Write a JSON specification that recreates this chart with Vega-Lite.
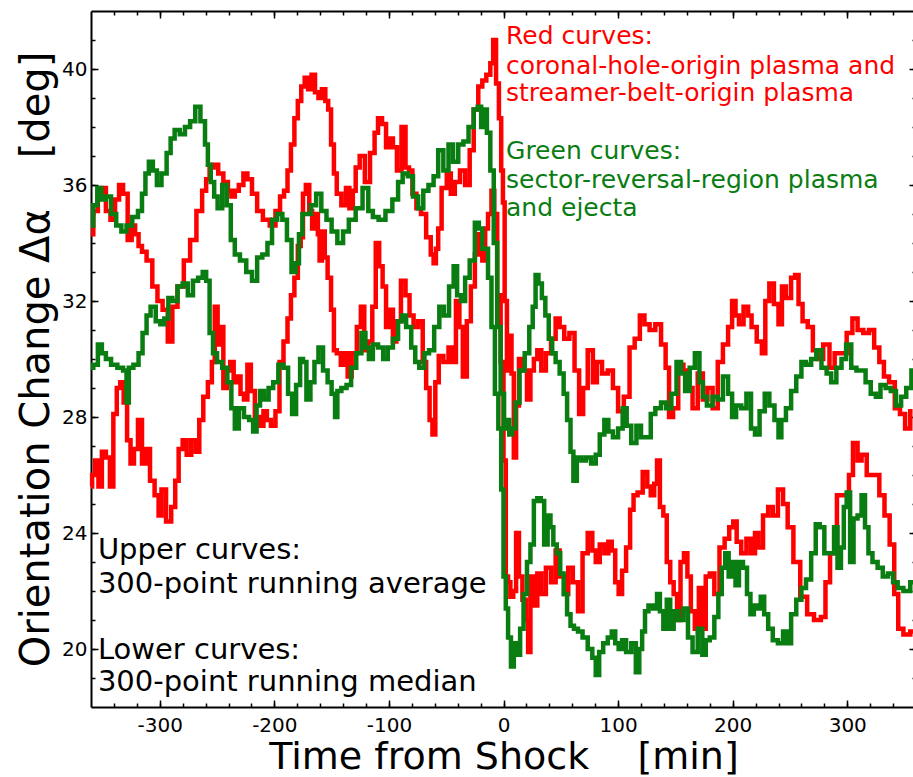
{
"$schema": "https://vega.github.io/schema/vega-lite/v6.json",
"width": 825,
"height": 696,
"autosize": {"type": "none"},
"padding": {"left": 91, "top": 11, "right": 0, "bottom": 70},
"background": "white",
"config": {"view": {"stroke": null}, "font": "DejaVu Sans", "axis": {"grid": false, "labelFont": "DejaVu Sans", "titleFont": "DejaVu Sans", "labelColor": "black", "titleColor": "black", "tickColor": "black", "domainColor": "black", "titleFontWeight": "normal", "tickWidth": 1.5}},
"datasets": {
"curves": [
{"s":"RA","g":"red","t":-360,"v":34.3},{"s":"RA","g":"red","t":-356,"v":35.1},{"s":"RA","g":"red","t":-352,"v":35.6},{"s":"RA","g":"red","t":-349,"v":35.9},{"s":"RA","g":"red","t":-345,"v":35.1},{"s":"RA","g":"red","t":-341,"v":34.8},{"s":"RA","g":"red","t":-337,"v":35.5},{"s":"RA","g":"red","t":-334,"v":36.0},{"s":"RA","g":"red","t":-330,"v":35.7},{"s":"RA","g":"red","t":-326,"v":34.1},{"s":"RA","g":"red","t":-323,"v":34.6},{"s":"RA","g":"red","t":-320,"v":34.3},{"s":"RA","g":"red","t":-317,"v":33.9},{"s":"RA","g":"red","t":-314,"v":33.7},{"s":"RA","g":"red","t":-309,"v":33.4},{"s":"RA","g":"red","t":-304,"v":32.5},{"s":"RA","g":"red","t":-300,"v":32.0},{"s":"RA","g":"red","t":-295,"v":31.7},{"s":"RA","g":"red","t":-291,"v":30.6},{"s":"RA","g":"red","t":-287,"v":31.8},{"s":"RA","g":"red","t":-282,"v":32.5},{"s":"RA","g":"red","t":-276,"v":33.4},{"s":"RA","g":"red","t":-271,"v":34.1},{"s":"RA","g":"red","t":-265,"v":35.1},{"s":"RA","g":"red","t":-261,"v":35.8},{"s":"RA","g":"red","t":-258,"v":36.2},{"s":"RA","g":"red","t":-255,"v":36.6},{"s":"RA","g":"red","t":-251,"v":36.7},{"s":"RA","g":"red","t":-247,"v":36.4},{"s":"RA","g":"red","t":-242,"v":36.1},{"s":"RA","g":"red","t":-239,"v":35.8},{"s":"RA","g":"red","t":-236,"v":35.6},{"s":"RA","g":"red","t":-233,"v":35.8},{"s":"RA","g":"red","t":-229,"v":36.0},{"s":"RA","g":"red","t":-225,"v":36.4},{"s":"RA","g":"red","t":-222,"v":36.2},{"s":"RA","g":"red","t":-217,"v":35.7},{"s":"RA","g":"red","t":-213,"v":35.1},{"s":"RA","g":"red","t":-207,"v":34.8},{"s":"RA","g":"red","t":-201,"v":34.6},{"s":"RA","g":"red","t":-197,"v":35.1},{"s":"RA","g":"red","t":-193,"v":35.6},{"s":"RA","g":"red","t":-190,"v":35.8},{"s":"RA","g":"red","t":-187,"v":36.5},{"s":"RA","g":"red","t":-184,"v":37.4},{"s":"RA","g":"red","t":-181,"v":38.3},{"s":"RA","g":"red","t":-178,"v":38.9},{"s":"RA","g":"red","t":-175,"v":39.4},{"s":"RA","g":"red","t":-172,"v":39.7},{"s":"RA","g":"red","t":-169,"v":39.3},{"s":"RA","g":"red","t":-166,"v":39.8},{"s":"RA","g":"red","t":-163,"v":39.2},{"s":"RA","g":"red","t":-160,"v":39.0},{"s":"RA","g":"red","t":-157,"v":39.3},{"s":"RA","g":"red","t":-154,"v":38.9},{"s":"RA","g":"red","t":-152,"v":38.6},{"s":"RA","g":"red","t":-149,"v":37.4},{"s":"RA","g":"red","t":-147,"v":36.4},{"s":"RA","g":"red","t":-144,"v":35.7},{"s":"RA","g":"red","t":-139,"v":35.3},{"s":"RA","g":"red","t":-136,"v":35.9},{"s":"RA","g":"red","t":-133,"v":35.2},{"s":"RA","g":"red","t":-130,"v":35.8},{"s":"RA","g":"red","t":-128,"v":36.6},{"s":"RA","g":"red","t":-123,"v":37.0},{"s":"RA","g":"red","t":-119,"v":36.1},{"s":"RA","g":"red","t":-114,"v":37.1},{"s":"RA","g":"red","t":-111,"v":37.8},{"s":"RA","g":"red","t":-108,"v":38.3},{"s":"RA","g":"red","t":-104,"v":38.1},{"s":"RA","g":"red","t":-101,"v":37.3},{"s":"RA","g":"red","t":-98,"v":37.6},{"s":"RA","g":"red","t":-95,"v":37.3},{"s":"RA","g":"red","t":-91,"v":36.5},{"s":"RA","g":"red","t":-87,"v":38.0},{"s":"RA","g":"red","t":-84,"v":36.6},{"s":"RA","g":"red","t":-81,"v":36.5},{"s":"RA","g":"red","t":-78,"v":35.7},{"s":"RA","g":"red","t":-74,"v":35.2},{"s":"RA","g":"red","t":-70,"v":35.0},{"s":"RA","g":"red","t":-65,"v":34.2},{"s":"RA","g":"red","t":-62,"v":33.6},{"s":"RA","g":"red","t":-60,"v":33.3},{"s":"RA","g":"red","t":-58,"v":33.8},{"s":"RA","g":"red","t":-56,"v":34.5},{"s":"RA","g":"red","t":-52,"v":35.9},{"s":"RA","g":"red","t":-47,"v":36.4},{"s":"RA","g":"red","t":-45,"v":35.7},{"s":"RA","g":"red","t":-40,"v":36.1},{"s":"RA","g":"red","t":-36,"v":36.5},{"s":"RA","g":"red","t":-31,"v":36.0},{"s":"RA","g":"red","t":-28,"v":37.2},{"s":"RA","g":"red","t":-24,"v":38.6},{"s":"RA","g":"red","t":-20,"v":39.4},{"s":"RA","g":"red","t":-17,"v":39.6},{"s":"RA","g":"red","t":-13,"v":39.8},{"s":"RA","g":"red","t":-10,"v":40.2},{"s":"RA","g":"red","t":-8,"v":41.0},{"s":"RA","g":"red","t":-5,"v":39.5},{"s":"RA","g":"red","t":-3,"v":38.3},{"s":"RA","g":"red","t":-1,"v":36.5},{"s":"RA","g":"red","t":0,"v":35.4},{"s":"RA","g":"red","t":2,"v":32.0},{"s":"RA","g":"red","t":4,"v":29.6},{"s":"RA","g":"red","t":6,"v":30.8},{"s":"RA","g":"red","t":8,"v":29.5},{"s":"RA","g":"red","t":10,"v":26.6},{"s":"RA","g":"red","t":12,"v":28.4},{"s":"RA","g":"red","t":15,"v":30.0},{"s":"RA","g":"red","t":19,"v":29.6},{"s":"RA","g":"red","t":22,"v":28.6},{"s":"RA","g":"red","t":25,"v":29.6},{"s":"RA","g":"red","t":28,"v":30.0},{"s":"RA","g":"red","t":31,"v":30.3},{"s":"RA","g":"red","t":35,"v":29.6},{"s":"RA","g":"red","t":39,"v":30.2},{"s":"RA","g":"red","t":44,"v":30.7},{"s":"RA","g":"red","t":47,"v":31.4},{"s":"RA","g":"red","t":51,"v":31.1},{"s":"RA","g":"red","t":55,"v":30.7},{"s":"RA","g":"red","t":60,"v":30.9},{"s":"RA","g":"red","t":64,"v":29.6},{"s":"RA","g":"red","t":68,"v":28.1},{"s":"RA","g":"red","t":71,"v":29.0},{"s":"RA","g":"red","t":76,"v":30.3},{"s":"RA","g":"red","t":80,"v":29.2},{"s":"RA","g":"red","t":83,"v":29.9},{"s":"RA","g":"red","t":89,"v":29.5},{"s":"RA","g":"red","t":93,"v":29.6},{"s":"RA","g":"red","t":98,"v":29.0},{"s":"RA","g":"red","t":102,"v":28.2},{"s":"RA","g":"red","t":108,"v":28.7},{"s":"RA","g":"red","t":112,"v":30.4},{"s":"RA","g":"red","t":117,"v":30.7},{"s":"RA","g":"red","t":121,"v":31.5},{"s":"RA","g":"red","t":125,"v":31.2},{"s":"RA","g":"red","t":130,"v":31.0},{"s":"RA","g":"red","t":135,"v":31.2},{"s":"RA","g":"red","t":140,"v":30.5},{"s":"RA","g":"red","t":143,"v":29.7},{"s":"RA","g":"red","t":146,"v":28.0},{"s":"RA","g":"red","t":150,"v":28.3},{"s":"RA","g":"red","t":155,"v":29.8},{"s":"RA","g":"red","t":159,"v":29.6},{"s":"RA","g":"red","t":163,"v":29.0},{"s":"RA","g":"red","t":167,"v":28.3},{"s":"RA","g":"red","t":172,"v":29.5},{"s":"RA","g":"red","t":176,"v":28.6},{"s":"RA","g":"red","t":180,"v":29.0},{"s":"RA","g":"red","t":185,"v":28.3},{"s":"RA","g":"red","t":189,"v":29.9},{"s":"RA","g":"red","t":194,"v":30.5},{"s":"RA","g":"red","t":198,"v":31.1},{"s":"RA","g":"red","t":201,"v":32.0},{"s":"RA","g":"red","t":204,"v":31.5},{"s":"RA","g":"red","t":207,"v":31.2},{"s":"RA","g":"red","t":212,"v":31.8},{"s":"RA","g":"red","t":215,"v":31.5},{"s":"RA","g":"red","t":218,"v":31.1},{"s":"RA","g":"red","t":224,"v":30.6},{"s":"RA","g":"red","t":227,"v":30.2},{"s":"RA","g":"red","t":230,"v":32.0},{"s":"RA","g":"red","t":234,"v":32.6},{"s":"RA","g":"red","t":238,"v":31.9},{"s":"RA","g":"red","t":242,"v":31.2},{"s":"RA","g":"red","t":244,"v":32.5},{"s":"RA","g":"red","t":249,"v":32.1},{"s":"RA","g":"red","t":253,"v":32.8},{"s":"RA","g":"red","t":256,"v":32.9},{"s":"RA","g":"red","t":259,"v":31.9},{"s":"RA","g":"red","t":263,"v":31.3},{"s":"RA","g":"red","t":268,"v":31.1},{"s":"RA","g":"red","t":272,"v":30.3},{"s":"RA","g":"red","t":276,"v":30.0},{"s":"RA","g":"red","t":282,"v":30.5},{"s":"RA","g":"red","t":287,"v":29.7},{"s":"RA","g":"red","t":291,"v":30.2},{"s":"RA","g":"red","t":297,"v":30.2},{"s":"RA","g":"red","t":302,"v":30.9},{"s":"RA","g":"red","t":307,"v":31.4},{"s":"RA","g":"red","t":311,"v":31.0},{"s":"RA","g":"red","t":317,"v":30.9},{"s":"RA","g":"red","t":321,"v":31.0},{"s":"RA","g":"red","t":326,"v":30.4},{"s":"RA","g":"red","t":330,"v":29.9},{"s":"RA","g":"red","t":334,"v":29.4},{"s":"RA","g":"red","t":339,"v":29.2},{"s":"RA","g":"red","t":344,"v":28.3},{"s":"RA","g":"red","t":348,"v":28.1},{"s":"RA","g":"red","t":353,"v":27.6},{"s":"RA","g":"red","t":357,"v":28.2},
{"s":"RM","g":"red","t":-360,"v":25.6},{"s":"RM","g":"red","t":-358,"v":26.0},{"s":"RM","g":"red","t":-355,"v":26.5},{"s":"RM","g":"red","t":-352,"v":25.6},{"s":"RM","g":"red","t":-349,"v":26.8},{"s":"RM","g":"red","t":-345,"v":26.6},{"s":"RM","g":"red","t":-342,"v":25.6},{"s":"RM","g":"red","t":-339,"v":28.1},{"s":"RM","g":"red","t":-336,"v":29.0},{"s":"RM","g":"red","t":-333,"v":29.2},{"s":"RM","g":"red","t":-330,"v":28.5},{"s":"RM","g":"red","t":-327,"v":27.2},{"s":"RM","g":"red","t":-324,"v":26.4},{"s":"RM","g":"red","t":-321,"v":26.9},{"s":"RM","g":"red","t":-317,"v":27.9},{"s":"RM","g":"red","t":-314,"v":26.4},{"s":"RM","g":"red","t":-310,"v":26.9},{"s":"RM","g":"red","t":-307,"v":25.8},{"s":"RM","g":"red","t":-302,"v":25.3},{"s":"RM","g":"red","t":-300,"v":24.6},{"s":"RM","g":"red","t":-297,"v":25.5},{"s":"RM","g":"red","t":-292,"v":24.4},{"s":"RM","g":"red","t":-288,"v":24.9},{"s":"RM","g":"red","t":-285,"v":25.8},{"s":"RM","g":"red","t":-282,"v":26.9},{"s":"RM","g":"red","t":-278,"v":27.2},{"s":"RM","g":"red","t":-275,"v":26.7},{"s":"RM","g":"red","t":-270,"v":27.2},{"s":"RM","g":"red","t":-267,"v":26.8},{"s":"RM","g":"red","t":-264,"v":27.9},{"s":"RM","g":"red","t":-260,"v":28.7},{"s":"RM","g":"red","t":-256,"v":29.2},{"s":"RM","g":"red","t":-253,"v":29.9},{"s":"RM","g":"red","t":-251,"v":31.8},{"s":"RM","g":"red","t":-248,"v":30.5},{"s":"RM","g":"red","t":-246,"v":31.1},{"s":"RM","g":"red","t":-243,"v":29.0},{"s":"RM","g":"red","t":-240,"v":29.6},{"s":"RM","g":"red","t":-237,"v":29.9},{"s":"RM","g":"red","t":-234,"v":29.2},{"s":"RM","g":"red","t":-231,"v":29.4},{"s":"RM","g":"red","t":-228,"v":28.8},{"s":"RM","g":"red","t":-225,"v":28.6},{"s":"RM","g":"red","t":-222,"v":29.8},{"s":"RM","g":"red","t":-219,"v":28.9},{"s":"RM","g":"red","t":-215,"v":28.0},{"s":"RM","g":"red","t":-211,"v":27.7},{"s":"RM","g":"red","t":-208,"v":28.2},{"s":"RM","g":"red","t":-205,"v":27.9},{"s":"RM","g":"red","t":-201,"v":27.7},{"s":"RM","g":"red","t":-197,"v":28.2},{"s":"RM","g":"red","t":-194,"v":29.9},{"s":"RM","g":"red","t":-190,"v":30.6},{"s":"RM","g":"red","t":-187,"v":31.4},{"s":"RM","g":"red","t":-184,"v":32.2},{"s":"RM","g":"red","t":-181,"v":32.8},{"s":"RM","g":"red","t":-178,"v":33.9},{"s":"RM","g":"red","t":-176,"v":34.2},{"s":"RM","g":"red","t":-174,"v":35.7},{"s":"RM","g":"red","t":-171,"v":36.0},{"s":"RM","g":"red","t":-168,"v":35.1},{"s":"RM","g":"red","t":-166,"v":34.5},{"s":"RM","g":"red","t":-163,"v":35.0},{"s":"RM","g":"red","t":-161,"v":34.3},{"s":"RM","g":"red","t":-160,"v":33.4},{"s":"RM","g":"red","t":-157,"v":34.4},{"s":"RM","g":"red","t":-155,"v":33.5},{"s":"RM","g":"red","t":-152,"v":32.8},{"s":"RM","g":"red","t":-149,"v":31.7},{"s":"RM","g":"red","t":-147,"v":30.3},{"s":"RM","g":"red","t":-144,"v":30.2},{"s":"RM","g":"red","t":-140,"v":29.8},{"s":"RM","g":"red","t":-137,"v":30.2},{"s":"RM","g":"red","t":-135,"v":29.4},{"s":"RM","g":"red","t":-130,"v":30.2},{"s":"RM","g":"red","t":-126,"v":31.1},{"s":"RM","g":"red","t":-123,"v":31.8},{"s":"RM","g":"red","t":-120,"v":30.3},{"s":"RM","g":"red","t":-116,"v":30.6},{"s":"RM","g":"red","t":-113,"v":31.8},{"s":"RM","g":"red","t":-110,"v":34.0},{"s":"RM","g":"red","t":-107,"v":33.2},{"s":"RM","g":"red","t":-104,"v":32.5},{"s":"RM","g":"red","t":-101,"v":31.1},{"s":"RM","g":"red","t":-98,"v":31.7},{"s":"RM","g":"red","t":-95,"v":30.6},{"s":"RM","g":"red","t":-92,"v":31.3},{"s":"RM","g":"red","t":-87,"v":32.7},{"s":"RM","g":"red","t":-84,"v":32.2},{"s":"RM","g":"red","t":-80,"v":31.5},{"s":"RM","g":"red","t":-77,"v":31.1},{"s":"RM","g":"red","t":-72,"v":31.3},{"s":"RM","g":"red","t":-69,"v":29.9},{"s":"RM","g":"red","t":-66,"v":29.0},{"s":"RM","g":"red","t":-63,"v":27.9},{"s":"RM","g":"red","t":-61,"v":27.4},{"s":"RM","g":"red","t":-58,"v":29.2},{"s":"RM","g":"red","t":-55,"v":30.1},{"s":"RM","g":"red","t":-50,"v":29.9},{"s":"RM","g":"red","t":-46,"v":30.4},{"s":"RM","g":"red","t":-43,"v":29.9},{"s":"RM","g":"red","t":-40,"v":32.0},{"s":"RM","g":"red","t":-37,"v":31.1},{"s":"RM","g":"red","t":-34,"v":29.4},{"s":"RM","g":"red","t":-30,"v":31.3},{"s":"RM","g":"red","t":-27,"v":32.5},{"s":"RM","g":"red","t":-23,"v":33.6},{"s":"RM","g":"red","t":-20,"v":34.3},{"s":"RM","g":"red","t":-17,"v":33.4},{"s":"RM","g":"red","t":-15,"v":34.5},{"s":"RM","g":"red","t":-12,"v":35.0},{"s":"RM","g":"red","t":-9,"v":35.8},{"s":"RM","g":"red","t":-7,"v":35.0},{"s":"RM","g":"red","t":-4,"v":32.2},{"s":"RM","g":"red","t":-1,"v":29.9},{"s":"RM","g":"red","t":1,"v":26.5},{"s":"RM","g":"red","t":3,"v":22.5},{"s":"RM","g":"red","t":5,"v":22.3},{"s":"RM","g":"red","t":7,"v":21.8},{"s":"RM","g":"red","t":10,"v":22.0},{"s":"RM","g":"red","t":12,"v":24.0},{"s":"RM","g":"red","t":15,"v":22.5},{"s":"RM","g":"red","t":18,"v":21.7},{"s":"RM","g":"red","t":21,"v":21.0},{"s":"RM","g":"red","t":22,"v":19.9},{"s":"RM","g":"red","t":25,"v":22.5},{"s":"RM","g":"red","t":28,"v":21.5},{"s":"RM","g":"red","t":31,"v":22.6},{"s":"RM","g":"red","t":35,"v":21.9},{"s":"RM","g":"red","t":39,"v":22.8},{"s":"RM","g":"red","t":44,"v":22.3},{"s":"RM","g":"red","t":47,"v":23.4},{"s":"RM","g":"red","t":51,"v":22.5},{"s":"RM","g":"red","t":55,"v":21.9},{"s":"RM","g":"red","t":58,"v":22.8},{"s":"RM","g":"red","t":63,"v":22.3},{"s":"RM","g":"red","t":67,"v":21.3},{"s":"RM","g":"red","t":71,"v":23.3},{"s":"RM","g":"red","t":76,"v":24.0},{"s":"RM","g":"red","t":79,"v":23.4},{"s":"RM","g":"red","t":82,"v":23.0},{"s":"RM","g":"red","t":86,"v":23.6},{"s":"RM","g":"red","t":90,"v":23.3},{"s":"RM","g":"red","t":93,"v":23.7},{"s":"RM","g":"red","t":96,"v":23.4},{"s":"RM","g":"red","t":99,"v":22.3},{"s":"RM","g":"red","t":102,"v":21.9},{"s":"RM","g":"red","t":105,"v":22.7},{"s":"RM","g":"red","t":109,"v":23.5},{"s":"RM","g":"red","t":112,"v":24.8},{"s":"RM","g":"red","t":115,"v":25.3},{"s":"RM","g":"red","t":119,"v":25.4},{"s":"RM","g":"red","t":124,"v":26.1},{"s":"RM","g":"red","t":127,"v":25.6},{"s":"RM","g":"red","t":130,"v":25.3},{"s":"RM","g":"red","t":133,"v":25.7},{"s":"RM","g":"red","t":135,"v":26.5},{"s":"RM","g":"red","t":138,"v":24.9},{"s":"RM","g":"red","t":141,"v":24.6},{"s":"RM","g":"red","t":144,"v":23.0},{"s":"RM","g":"red","t":147,"v":22.3},{"s":"RM","g":"red","t":150,"v":21.9},{"s":"RM","g":"red","t":153,"v":21.0},{"s":"RM","g":"red","t":156,"v":23.0},{"s":"RM","g":"red","t":159,"v":23.3},{"s":"RM","g":"red","t":162,"v":22.5},{"s":"RM","g":"red","t":165,"v":21.3},{"s":"RM","g":"red","t":169,"v":20.7},{"s":"RM","g":"red","t":172,"v":22.1},{"s":"RM","g":"red","t":175,"v":20.7},{"s":"RM","g":"red","t":178,"v":22.5},{"s":"RM","g":"red","t":182,"v":22.6},{"s":"RM","g":"red","t":186,"v":21.9},{"s":"RM","g":"red","t":191,"v":23.5},{"s":"RM","g":"red","t":195,"v":23.8},{"s":"RM","g":"red","t":199,"v":24.2},{"s":"RM","g":"red","t":202,"v":24.4},{"s":"RM","g":"red","t":205,"v":23.7},{"s":"RM","g":"red","t":210,"v":23.3},{"s":"RM","g":"red","t":214,"v":23.8},{"s":"RM","g":"red","t":218,"v":23.3},{"s":"RM","g":"red","t":221,"v":24.0},{"s":"RM","g":"red","t":224,"v":23.5},{"s":"RM","g":"red","t":229,"v":24.6},{"s":"RM","g":"red","t":233,"v":24.9},{"s":"RM","g":"red","t":237,"v":24.6},{"s":"RM","g":"red","t":242,"v":25.5},{"s":"RM","g":"red","t":246,"v":25.0},{"s":"RM","g":"red","t":250,"v":24.2},{"s":"RM","g":"red","t":256,"v":23.0},{"s":"RM","g":"red","t":262,"v":21.8},{"s":"RM","g":"red","t":268,"v":21.2},{"s":"RM","g":"red","t":274,"v":21.0},{"s":"RM","g":"red","t":280,"v":21.1},{"s":"RM","g":"red","t":282,"v":22.3},{"s":"RM","g":"red","t":288,"v":23.3},{"s":"RM","g":"red","t":294,"v":25.3},{"s":"RM","g":"red","t":300,"v":25.3},{"s":"RM","g":"red","t":303,"v":26.0},{"s":"RM","g":"red","t":307,"v":27.1},{"s":"RM","g":"red","t":311,"v":26.5},{"s":"RM","g":"red","t":314,"v":26.7},{"s":"RM","g":"red","t":320,"v":26.0},{"s":"RM","g":"red","t":326,"v":26.0},{"s":"RM","g":"red","t":330,"v":25.3},{"s":"RM","g":"red","t":335,"v":24.6},{"s":"RM","g":"red","t":339,"v":23.6},{"s":"RM","g":"red","t":343,"v":21.9},{"s":"RM","g":"red","t":346,"v":20.7},{"s":"RM","g":"red","t":352,"v":20.5},{"s":"RM","g":"red","t":358,"v":20.6},
{"s":"GA","g":"green","t":-360,"v":34.6},{"s":"GA","g":"green","t":-356,"v":35.3},{"s":"GA","g":"green","t":-353,"v":35.9},{"s":"GA","g":"green","t":-349,"v":35.5},{"s":"GA","g":"green","t":-345,"v":35.6},{"s":"GA","g":"green","t":-340,"v":35.0},{"s":"GA","g":"green","t":-336,"v":34.6},{"s":"GA","g":"green","t":-331,"v":34.4},{"s":"GA","g":"green","t":-327,"v":34.6},{"s":"GA","g":"green","t":-321,"v":34.9},{"s":"GA","g":"green","t":-317,"v":35.1},{"s":"GA","g":"green","t":-314,"v":35.7},{"s":"GA","g":"green","t":-311,"v":36.4},{"s":"GA","g":"green","t":-308,"v":36.8},{"s":"GA","g":"green","t":-304,"v":36.5},{"s":"GA","g":"green","t":-301,"v":36.0},{"s":"GA","g":"green","t":-296,"v":36.4},{"s":"GA","g":"green","t":-292,"v":37.1},{"s":"GA","g":"green","t":-289,"v":37.6},{"s":"GA","g":"green","t":-285,"v":37.9},{"s":"GA","g":"green","t":-280,"v":37.75},{"s":"GA","g":"green","t":-276,"v":38.0},{"s":"GA","g":"green","t":-271,"v":38.2},{"s":"GA","g":"green","t":-267,"v":38.7},{"s":"GA","g":"green","t":-262,"v":38.2},{"s":"GA","g":"green","t":-259,"v":37.4},{"s":"GA","g":"green","t":-257,"v":36.7},{"s":"GA","g":"green","t":-254,"v":36.1},{"s":"GA","g":"green","t":-251,"v":35.6},{"s":"GA","g":"green","t":-248,"v":35.2},{"s":"GA","g":"green","t":-243,"v":36.0},{"s":"GA","g":"green","t":-240,"v":35.3},{"s":"GA","g":"green","t":-236,"v":34.1},{"s":"GA","g":"green","t":-233,"v":33.6},{"s":"GA","g":"green","t":-227,"v":33.4},{"s":"GA","g":"green","t":-222,"v":33.0},{"s":"GA","g":"green","t":-217,"v":32.7},{"s":"GA","g":"green","t":-213,"v":33.5},{"s":"GA","g":"green","t":-208,"v":33.6},{"s":"GA","g":"green","t":-204,"v":34.0},{"s":"GA","g":"green","t":-200,"v":34.8},{"s":"GA","g":"green","t":-195,"v":35.0},{"s":"GA","g":"green","t":-191,"v":34.8},{"s":"GA","g":"green","t":-187,"v":34.1},{"s":"GA","g":"green","t":-183,"v":33.0},{"s":"GA","g":"green","t":-180,"v":33.3},{"s":"GA","g":"green","t":-177,"v":34.3},{"s":"GA","g":"green","t":-174,"v":35.0},{"s":"GA","g":"green","t":-170,"v":35.0},{"s":"GA","g":"green","t":-166,"v":35.3},{"s":"GA","g":"green","t":-161,"v":35.7},{"s":"GA","g":"green","t":-157,"v":35.1},{"s":"GA","g":"green","t":-152,"v":34.8},{"s":"GA","g":"green","t":-148,"v":34.4},{"s":"GA","g":"green","t":-142,"v":34.0},{"s":"GA","g":"green","t":-138,"v":34.4},{"s":"GA","g":"green","t":-132,"v":34.8},{"s":"GA","g":"green","t":-126,"v":35.2},{"s":"GA","g":"green","t":-120,"v":35.9},{"s":"GA","g":"green","t":-116,"v":35.1},{"s":"GA","g":"green","t":-112,"v":34.9},{"s":"GA","g":"green","t":-106,"v":34.8},{"s":"GA","g":"green","t":-100,"v":35.1},{"s":"GA","g":"green","t":-94,"v":35.5},{"s":"GA","g":"green","t":-90,"v":36.1},{"s":"GA","g":"green","t":-86,"v":36.4},{"s":"GA","g":"green","t":-81,"v":36.3},{"s":"GA","g":"green","t":-77,"v":35.6},{"s":"GA","g":"green","t":-72,"v":35.2},{"s":"GA","g":"green","t":-68,"v":35.8},{"s":"GA","g":"green","t":-63,"v":36.0},{"s":"GA","g":"green","t":-59,"v":36.3},{"s":"GA","g":"green","t":-55,"v":37.2},{"s":"GA","g":"green","t":-50,"v":36.5},{"s":"GA","g":"green","t":-46,"v":37.4},{"s":"GA","g":"green","t":-42,"v":36.8},{"s":"GA","g":"green","t":-37,"v":37.4},{"s":"GA","g":"green","t":-33,"v":37.5},{"s":"GA","g":"green","t":-28,"v":38.0},{"s":"GA","g":"green","t":-24,"v":38.6},{"s":"GA","g":"green","t":-21,"v":38.7},{"s":"GA","g":"green","t":-18,"v":38.0},{"s":"GA","g":"green","t":-16,"v":38.6},{"s":"GA","g":"green","t":-13,"v":37.8},{"s":"GA","g":"green","t":-10,"v":36.5},{"s":"GA","g":"green","t":-7,"v":34.0},{"s":"GA","g":"green","t":-4,"v":31.1},{"s":"GA","g":"green","t":-1,"v":28.8},{"s":"GA","g":"green","t":2,"v":27.6},{"s":"GA","g":"green","t":4,"v":27.9},{"s":"GA","g":"green","t":6,"v":27.4},{"s":"GA","g":"green","t":9,"v":27.6},{"s":"GA","g":"green","t":12,"v":28.5},{"s":"GA","g":"green","t":16,"v":29.6},{"s":"GA","g":"green","t":21,"v":30.2},{"s":"GA","g":"green","t":24,"v":31.1},{"s":"GA","g":"green","t":27,"v":31.8},{"s":"GA","g":"green","t":29,"v":32.9},{"s":"GA","g":"green","t":32,"v":32.6},{"s":"GA","g":"green","t":35,"v":32.1},{"s":"GA","g":"green","t":38,"v":31.5},{"s":"GA","g":"green","t":41,"v":30.7},{"s":"GA","g":"green","t":44,"v":30.2},{"s":"GA","g":"green","t":47,"v":29.9},{"s":"GA","g":"green","t":51,"v":29.5},{"s":"GA","g":"green","t":54,"v":28.8},{"s":"GA","g":"green","t":57,"v":27.9},{"s":"GA","g":"green","t":60,"v":26.8},{"s":"GA","g":"green","t":62,"v":25.8},{"s":"GA","g":"green","t":66,"v":26.6},{"s":"GA","g":"green","t":70,"v":26.5},{"s":"GA","g":"green","t":74,"v":26.6},{"s":"GA","g":"green","t":79,"v":26.4},{"s":"GA","g":"green","t":82,"v":26.7},{"s":"GA","g":"green","t":86,"v":27.4},{"s":"GA","g":"green","t":90,"v":27.9},{"s":"GA","g":"green","t":93,"v":27.5},{"s":"GA","g":"green","t":98,"v":27.3},{"s":"GA","g":"green","t":102,"v":27.6},{"s":"GA","g":"green","t":106,"v":28.3},{"s":"GA","g":"green","t":109,"v":27.7},{"s":"GA","g":"green","t":114,"v":27.1},{"s":"GA","g":"green","t":118,"v":27.7},{"s":"GA","g":"green","t":122,"v":27.3},{"s":"GA","g":"green","t":127,"v":27.3},{"s":"GA","g":"green","t":130,"v":28.1},{"s":"GA","g":"green","t":135,"v":28.3},{"s":"GA","g":"green","t":140,"v":28.5},{"s":"GA","g":"green","t":144,"v":28.3},{"s":"GA","g":"green","t":149,"v":28.8},{"s":"GA","g":"green","t":153,"v":29.9},{"s":"GA","g":"green","t":157,"v":29.5},{"s":"GA","g":"green","t":160,"v":28.9},{"s":"GA","g":"green","t":165,"v":29.7},{"s":"GA","g":"green","t":169,"v":30.2},{"s":"GA","g":"green","t":173,"v":29.2},{"s":"GA","g":"green","t":175,"v":28.7},{"s":"GA","g":"green","t":180,"v":28.4},{"s":"GA","g":"green","t":185,"v":28.7},{"s":"GA","g":"green","t":189,"v":28.6},{"s":"GA","g":"green","t":194,"v":29.4},{"s":"GA","g":"green","t":198,"v":28.8},{"s":"GA","g":"green","t":201,"v":28.0},{"s":"GA","g":"green","t":205,"v":28.4},{"s":"GA","g":"green","t":210,"v":28.3},{"s":"GA","g":"green","t":214,"v":28.8},{"s":"GA","g":"green","t":218,"v":27.6},{"s":"GA","g":"green","t":221,"v":27.4},{"s":"GA","g":"green","t":226,"v":28.2},{"s":"GA","g":"green","t":230,"v":28.8},{"s":"GA","g":"green","t":234,"v":28.4},{"s":"GA","g":"green","t":239,"v":27.9},{"s":"GA","g":"green","t":241,"v":27.3},{"s":"GA","g":"green","t":244,"v":27.9},{"s":"GA","g":"green","t":249,"v":28.3},{"s":"GA","g":"green","t":253,"v":28.9},{"s":"GA","g":"green","t":258,"v":29.4},{"s":"GA","g":"green","t":262,"v":29.9},{"s":"GA","g":"green","t":266,"v":29.8},{"s":"GA","g":"green","t":271,"v":30.0},{"s":"GA","g":"green","t":275,"v":30.3},{"s":"GA","g":"green","t":280,"v":29.7},{"s":"GA","g":"green","t":284,"v":29.5},{"s":"GA","g":"green","t":288,"v":29.2},{"s":"GA","g":"green","t":293,"v":29.7},{"s":"GA","g":"green","t":297,"v":30.0},{"s":"GA","g":"green","t":301,"v":30.5},{"s":"GA","g":"green","t":306,"v":29.7},{"s":"GA","g":"green","t":310,"v":29.6},{"s":"GA","g":"green","t":314,"v":29.6},{"s":"GA","g":"green","t":318,"v":29.2},{"s":"GA","g":"green","t":323,"v":28.8},{"s":"GA","g":"green","t":327,"v":28.7},{"s":"GA","g":"green","t":331,"v":29.1},{"s":"GA","g":"green","t":336,"v":29.0},{"s":"GA","g":"green","t":340,"v":28.9},{"s":"GA","g":"green","t":345,"v":28.4},{"s":"GA","g":"green","t":349,"v":28.7},{"s":"GA","g":"green","t":354,"v":29.0},{"s":"GA","g":"green","t":358,"v":29.6},
{"s":"GM","g":"green","t":-360,"v":29.7},{"s":"GM","g":"green","t":-356,"v":29.8},{"s":"GM","g":"green","t":-352,"v":30.5},{"s":"GM","g":"green","t":-349,"v":30.2},{"s":"GM","g":"green","t":-345,"v":30.0},{"s":"GM","g":"green","t":-340,"v":29.8},{"s":"GM","g":"green","t":-334,"v":29.7},{"s":"GM","g":"green","t":-330,"v":29.6},{"s":"GM","g":"green","t":-328,"v":28.5},{"s":"GM","g":"green","t":-326,"v":29.7},{"s":"GM","g":"green","t":-320,"v":29.8},{"s":"GM","g":"green","t":-317,"v":30.2},{"s":"GM","g":"green","t":-313,"v":30.9},{"s":"GM","g":"green","t":-310,"v":31.5},{"s":"GM","g":"green","t":-306,"v":31.8},{"s":"GM","g":"green","t":-301,"v":31.3},{"s":"GM","g":"green","t":-298,"v":31.2},{"s":"GM","g":"green","t":-294,"v":31.4},{"s":"GM","g":"green","t":-291,"v":32.1},{"s":"GM","g":"green","t":-287,"v":32.0},{"s":"GM","g":"green","t":-282,"v":32.5},{"s":"GM","g":"green","t":-278,"v":32.6},{"s":"GM","g":"green","t":-273,"v":32.2},{"s":"GM","g":"green","t":-269,"v":32.7},{"s":"GM","g":"green","t":-264,"v":32.8},{"s":"GM","g":"green","t":-261,"v":33.0},{"s":"GM","g":"green","t":-258,"v":32.7},{"s":"GM","g":"green","t":-255,"v":30.9},{"s":"GM","g":"green","t":-252,"v":30.2},{"s":"GM","g":"green","t":-248,"v":29.9},{"s":"GM","g":"green","t":-243,"v":29.7},{"s":"GM","g":"green","t":-239,"v":29.2},{"s":"GM","g":"green","t":-236,"v":28.3},{"s":"GM","g":"green","t":-233,"v":27.6},{"s":"GM","g":"green","t":-229,"v":28.3},{"s":"GM","g":"green","t":-224,"v":28.0},{"s":"GM","g":"green","t":-220,"v":27.9},{"s":"GM","g":"green","t":-217,"v":27.5},{"s":"GM","g":"green","t":-214,"v":28.4},{"s":"GM","g":"green","t":-211,"v":28.9},{"s":"GM","g":"green","t":-207,"v":28.6},{"s":"GM","g":"green","t":-203,"v":29.0},{"s":"GM","g":"green","t":-199,"v":29.2},{"s":"GM","g":"green","t":-194,"v":29.8},{"s":"GM","g":"green","t":-190,"v":29.7},{"s":"GM","g":"green","t":-186,"v":28.8},{"s":"GM","g":"green","t":-183,"v":28.1},{"s":"GM","g":"green","t":-179,"v":29.1},{"s":"GM","g":"green","t":-176,"v":30.0},{"s":"GM","g":"green","t":-174,"v":29.9},{"s":"GM","g":"green","t":-170,"v":28.6},{"s":"GM","g":"green","t":-167,"v":29.2},{"s":"GM","g":"green","t":-163,"v":29.9},{"s":"GM","g":"green","t":-160,"v":30.4},{"s":"GM","g":"green","t":-155,"v":29.6},{"s":"GM","g":"green","t":-152,"v":29.2},{"s":"GM","g":"green","t":-148,"v":28.8},{"s":"GM","g":"green","t":-146,"v":28.0},{"s":"GM","g":"green","t":-144,"v":28.9},{"s":"GM","g":"green","t":-139,"v":29.0},{"s":"GM","g":"green","t":-135,"v":29.1},{"s":"GM","g":"green","t":-131,"v":29.7},{"s":"GM","g":"green","t":-126,"v":30.2},{"s":"GM","g":"green","t":-122,"v":30.9},{"s":"GM","g":"green","t":-119,"v":30.4},{"s":"GM","g":"green","t":-116,"v":30.0},{"s":"GM","g":"green","t":-112,"v":30.5},{"s":"GM","g":"green","t":-107,"v":30.4},{"s":"GM","g":"green","t":-103,"v":30.0},{"s":"GM","g":"green","t":-99,"v":30.4},{"s":"GM","g":"green","t":-94,"v":30.7},{"s":"GM","g":"green","t":-90,"v":31.3},{"s":"GM","g":"green","t":-87,"v":31.5},{"s":"GM","g":"green","t":-83,"v":31.1},{"s":"GM","g":"green","t":-78,"v":30.4},{"s":"GM","g":"green","t":-76,"v":29.9},{"s":"GM","g":"green","t":-71,"v":29.7},{"s":"GM","g":"green","t":-67,"v":30.2},{"s":"GM","g":"green","t":-63,"v":30.3},{"s":"GM","g":"green","t":-58,"v":31.1},{"s":"GM","g":"green","t":-54,"v":31.8},{"s":"GM","g":"green","t":-50,"v":31.5},{"s":"GM","g":"green","t":-45,"v":32.5},{"s":"GM","g":"green","t":-42,"v":33.2},{"s":"GM","g":"green","t":-39,"v":32.2},{"s":"GM","g":"green","t":-35,"v":32.0},{"s":"GM","g":"green","t":-32,"v":32.8},{"s":"GM","g":"green","t":-27,"v":33.4},{"s":"GM","g":"green","t":-23,"v":34.7},{"s":"GM","g":"green","t":-20,"v":34.5},{"s":"GM","g":"green","t":-17,"v":33.8},{"s":"GM","g":"green","t":-15,"v":33.8},{"s":"GM","g":"green","t":-12,"v":32.8},{"s":"GM","g":"green","t":-9,"v":31.1},{"s":"GM","g":"green","t":-6,"v":28.8},{"s":"GM","g":"green","t":-3,"v":27.6},{"s":"GM","g":"green","t":-1,"v":25.5},{"s":"GM","g":"green","t":1,"v":22.5},{"s":"GM","g":"green","t":3,"v":21.4},{"s":"GM","g":"green","t":5,"v":20.4},{"s":"GM","g":"green","t":8,"v":19.4},{"s":"GM","g":"green","t":10,"v":20.2},{"s":"GM","g":"green","t":13,"v":19.8},{"s":"GM","g":"green","t":16,"v":20.7},{"s":"GM","g":"green","t":19,"v":21.9},{"s":"GM","g":"green","t":22,"v":23.0},{"s":"GM","g":"green","t":25,"v":23.6},{"s":"GM","g":"green","t":28,"v":25.1},{"s":"GM","g":"green","t":31,"v":25.2},{"s":"GM","g":"green","t":34,"v":25.1},{"s":"GM","g":"green","t":37,"v":23.6},{"s":"GM","g":"green","t":40,"v":24.6},{"s":"GM","g":"green","t":42,"v":24.2},{"s":"GM","g":"green","t":45,"v":23.6},{"s":"GM","g":"green","t":48,"v":23.3},{"s":"GM","g":"green","t":51,"v":22.6},{"s":"GM","g":"green","t":54,"v":21.9},{"s":"GM","g":"green","t":57,"v":21.2},{"s":"GM","g":"green","t":60,"v":20.8},{"s":"GM","g":"green","t":63,"v":20.7},{"s":"GM","g":"green","t":67,"v":20.6},{"s":"GM","g":"green","t":71,"v":20.4},{"s":"GM","g":"green","t":76,"v":20.0},{"s":"GM","g":"green","t":79,"v":19.7},{"s":"GM","g":"green","t":82,"v":19.1},{"s":"GM","g":"green","t":85,"v":19.9},{"s":"GM","g":"green","t":89,"v":20.2},{"s":"GM","g":"green","t":93,"v":20.4},{"s":"GM","g":"green","t":96,"v":20.6},{"s":"GM","g":"green","t":99,"v":20.2},{"s":"GM","g":"green","t":102,"v":20.0},{"s":"GM","g":"green","t":105,"v":20.3},{"s":"GM","g":"green","t":109,"v":19.9},{"s":"GM","g":"green","t":114,"v":20.2},{"s":"GM","g":"green","t":117,"v":19.2},{"s":"GM","g":"green","t":120,"v":20.0},{"s":"GM","g":"green","t":122,"v":20.6},{"s":"GM","g":"green","t":125,"v":21.3},{"s":"GM","g":"green","t":128,"v":21.5},{"s":"GM","g":"green","t":133,"v":21.4},{"s":"GM","g":"green","t":135,"v":21.9},{"s":"GM","g":"green","t":138,"v":21.3},{"s":"GM","g":"green","t":141,"v":20.7},{"s":"GM","g":"green","t":144,"v":21.7},{"s":"GM","g":"green","t":147,"v":20.7},{"s":"GM","g":"green","t":150,"v":21.3},{"s":"GM","g":"green","t":155,"v":21.0},{"s":"GM","g":"green","t":159,"v":21.4},{"s":"GM","g":"green","t":163,"v":20.4},{"s":"GM","g":"green","t":167,"v":19.9},{"s":"GM","g":"green","t":172,"v":20.7},{"s":"GM","g":"green","t":175,"v":19.8},{"s":"GM","g":"green","t":178,"v":20.3},{"s":"GM","g":"green","t":182,"v":20.4},{"s":"GM","g":"green","t":186,"v":21.1},{"s":"GM","g":"green","t":189,"v":21.9},{"s":"GM","g":"green","t":192,"v":22.8},{"s":"GM","g":"green","t":195,"v":23.3},{"s":"GM","g":"green","t":198,"v":22.5},{"s":"GM","g":"green","t":201,"v":23.0},{"s":"GM","g":"green","t":204,"v":22.2},{"s":"GM","g":"green","t":207,"v":23.0},{"s":"GM","g":"green","t":211,"v":22.8},{"s":"GM","g":"green","t":214,"v":21.9},{"s":"GM","g":"green","t":217,"v":21.2},{"s":"GM","g":"green","t":220,"v":21.5},{"s":"GM","g":"green","t":223,"v":21.4},{"s":"GM","g":"green","t":226,"v":21.8},{"s":"GM","g":"green","t":229,"v":21.2},{"s":"GM","g":"green","t":233,"v":20.7},{"s":"GM","g":"green","t":237,"v":20.3},{"s":"GM","g":"green","t":242,"v":20.2},{"s":"GM","g":"green","t":246,"v":20.6},{"s":"GM","g":"green","t":249,"v":20.2},{"s":"GM","g":"green","t":253,"v":21.2},{"s":"GM","g":"green","t":258,"v":21.7},{"s":"GM","g":"green","t":262,"v":22.1},{"s":"GM","g":"green","t":266,"v":22.4},{"s":"GM","g":"green","t":271,"v":23.3},{"s":"GM","g":"green","t":274,"v":24.3},{"s":"GM","g":"green","t":278,"v":24.2},{"s":"GM","g":"green","t":282,"v":23.3},{"s":"GM","g":"green","t":287,"v":23.3},{"s":"GM","g":"green","t":290,"v":24.2},{"s":"GM","g":"green","t":293,"v":22.8},{"s":"GM","g":"green","t":296,"v":23.5},{"s":"GM","g":"green","t":298,"v":24.9},{"s":"GM","g":"green","t":301,"v":25.4},{"s":"GM","g":"green","t":304,"v":23.0},{"s":"GM","g":"green","t":307,"v":24.5},{"s":"GM","g":"green","t":311,"v":24.6},{"s":"GM","g":"green","t":314,"v":25.3},{"s":"GM","g":"green","t":317,"v":24.2},{"s":"GM","g":"green","t":320,"v":23.3},{"s":"GM","g":"green","t":324,"v":23.0},{"s":"GM","g":"green","t":329,"v":22.8},{"s":"GM","g":"green","t":333,"v":22.5},{"s":"GM","g":"green","t":338,"v":22.6},{"s":"GM","g":"green","t":342,"v":22.3},{"s":"GM","g":"green","t":346,"v":22.1},{"s":"GM","g":"green","t":352,"v":22.0},{"s":"GM","g":"green","t":358,"v":22.3}
],
"notes": [
{"label":"Red curves:","t":2.2,"v":40.85,"g":"red"},
{"label":"coronal-hole-origin plasma and","t":2.2,"v":39.82,"g":"red"},
{"label":"streamer-belt-origin plasma","t":2.2,"v":38.9,"g":"red"},
{"label":"Green curves:","t":2.2,"v":36.89,"g":"green"},
{"label":"sector-reversal-region plasma","t":2.2,"v":35.91,"g":"green"},
{"label":"and ejecta","t":2.2,"v":34.93,"g":"green"},
{"label":"Upper curves:","t":-354,"v":23.09,"g":"black"},
{"label":"300-point running average","t":-354,"v":21.94,"g":"black"},
{"label":"Lower curves:","t":-354,"v":19.64,"g":"black"},
{"label":"300-point running median","t":-354,"v":18.55,"g":"black"}
]
},
"layer": [
{
"data": {"name": "curves"},
"mark": {"type": "line", "interpolate": "step", "strokeWidth": 4.5, "strokeJoin": "miter", "strokeCap": "butt"},
"encoding": {
"x": {"field": "t", "type": "quantitative", "scale": {"domain": [-360, 360], "nice": false, "zero": false},
"axis": {"orient": "bottom", "values": [-300,-200,-100,0,100,200,300], "labelExpr": "'' + datum.value", "tickSize": -7, "domain": true, "domainWidth": 2, "labelFontSize": 20, "labelPadding": 15, "labelFlush": false, "labelOverlap": false, "title": "Time from Shock\u00a0\u00a0\u00a0\u00a0[min]", "titleFontSize": 38, "titlePadding": 3}},
"y": {"field": "v", "type": "quantitative", "scale": {"domain": [18, 42], "nice": false, "zero": false},
"axis": {"orient": "left", "values": [20,24,28,32,36,40], "tickSize": -7, "domain": true, "domainWidth": 2, "labelFontSize": 20, "labelPadding": 11, "labelFlush": false, "labelOverlap": false, "title": "Orientation Change \u0394\u03b1\u00a0\u00a0\u00a0\u00a0[deg]", "titleFontSize": 40, "titlePadding": 5}},
"color": {"field": "g", "type": "nominal", "scale": {"domain": ["red", "green"], "range": ["#ff0000", "#0a7d12"]}, "legend": null},
"detail": {"field": "s"}
}
},
{
"data": {"name": "notes"},
"transform": [{"filter": "datum.g !== 'black'"}],
"mark": {"type": "text", "align": "left", "baseline": "alphabetic", "font": "DejaVu Sans", "fontSize": 25},
"encoding": {
"x": {"field": "t", "type": "quantitative", "scale": {"domain": [-360, 360], "nice": false, "zero": false},
"axis": {"orient": "bottom", "values": [-340,-320,-300,-280,-260,-240,-220,-200,-180,-160,-140,-120,-100,-80,-60,-40,-20,0,20,40,60,80,100,120,140,160,180,200,220,240,260,280,300,320,340], "tickSize": -4, "domain": false, "labels": false, "title": null}},
"y": {"field": "v", "type": "quantitative", "scale": {"domain": [18, 42], "nice": false, "zero": false},
"axis": {"orient": "left", "values": [19,20,21,22,23,24,25,26,27,28,29,30,31,32,33,34,35,36,37,38,39,40,41], "tickSize": -4, "domain": false, "labels": false, "title": null}},
"text": {"field": "label"},
"color": {"field": "g", "type": "nominal", "scale": {"domain": ["red", "green"], "range": ["#ff0000", "#0a7d12"]}, "legend": null}
}
},
{
"data": {"name": "notes"},
"transform": [{"filter": "datum.g === 'black' && datum.v > 21"}],
"mark": {"type": "text", "align": "left", "baseline": "alphabetic", "font": "DejaVu Sans", "fontSize": 29, "color": "black"},
"encoding": {
"x": {"field": "t", "type": "quantitative", "scale": {"domain": [-360, 360], "nice": false, "zero": false},
"axis": {"orient": "top", "values": [-300,-200,-100,0,100,200,300], "tickSize": -7, "domain": true, "domainWidth": 2, "labels": false, "title": null}},
"y": {"field": "v", "type": "quantitative", "scale": {"domain": [18, 42], "nice": false, "zero": false},
"axis": {"orient": "right", "values": [20,24,28,32,36,40], "tickSize": -7, "domain": true, "domainWidth": 2, "labels": false, "title": null}},
"text": {"field": "label"}
}
},
{
"data": {"name": "notes"},
"transform": [{"filter": "datum.g === 'black' && datum.v < 21"}],
"mark": {"type": "text", "align": "left", "baseline": "alphabetic", "font": "DejaVu Sans", "fontSize": 29, "color": "black"},
"encoding": {
"x": {"field": "t", "type": "quantitative", "scale": {"domain": [-360, 360], "nice": false, "zero": false},
"axis": {"orient": "top", "values": [-340,-320,-300,-280,-260,-240,-220,-200,-180,-160,-140,-120,-100,-80,-60,-40,-20,0,20,40,60,80,100,120,140,160,180,200,220,240,260,280,300,320,340], "tickSize": -4, "domain": false, "labels": false, "title": null}},
"y": {"field": "v", "type": "quantitative", "scale": {"domain": [18, 42], "nice": false, "zero": false},
"axis": {"orient": "right", "values": [19,20,21,22,23,24,25,26,27,28,29,30,31,32,33,34,35,36,37,38,39,40,41], "tickSize": -4, "domain": false, "labels": false, "title": null}},
"text": {"field": "label"}
}
}
],
"resolve": {"axis": {"x": "independent", "y": "independent"}}
}
